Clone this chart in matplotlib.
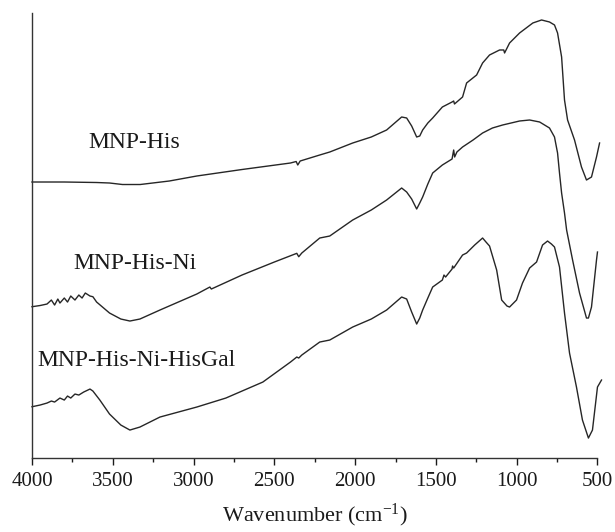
import matplotlib
matplotlib.use("Agg")
import matplotlib.pyplot as plt
from matplotlib.ticker import MultipleLocator

plt.rcParams['font.family'] = ['Liberation Serif', 'DejaVu Serif']
plt.rcParams['mathtext.fontset'] = 'custom'
plt.rcParams['mathtext.rm'] = 'Liberation Serif'
plt.rcParams['mathtext.it'] = 'Liberation Serif:italic'

# ---- data (wavenumber in cm^-1, transmittance in arbitrary offset units) ----
his_wn = [4000, 3800, 3600, 3520, 3440, 3330, 3150, 2980, 2700, 2400, 2365, 2355, 2340,
          2219, 2157, 2015, 1900, 1805, 1712, 1681, 1650, 1619, 1600, 1582, 1550, 1520,
          1460, 1400, 1390, 1385, 1335, 1310, 1248, 1211, 1168, 1106, 1080, 1075, 1044,
          982, 900, 846, 797, 766, 747, 722, 704, 685, 642, 599, 568, 537, 506, 487]
his_t = [276, 276, 275.5, 275, 273.5, 273.5, 277, 282, 288.5, 295, 296.5, 293, 297,
         303, 306, 315, 321, 328, 341, 340, 332, 321, 322, 328, 335, 340,
         351, 356, 357, 354, 361, 375, 383, 395, 403, 408, 408, 405, 415,
         425, 435, 438, 436, 433, 425, 401, 358, 338, 318, 291, 278, 281, 301, 315]

ni_wn = [4000, 3950, 3907, 3880, 3860, 3840, 3827, 3800, 3780, 3760, 3734, 3710, 3690,
         3670, 3641, 3623, 3600, 3520, 3450, 3394, 3332, 3208, 2980, 2899, 2890, 2700,
         2500, 2361, 2349, 2330, 2219, 2157, 2015, 1900, 1805, 1712, 1681, 1650, 1619,
         1600, 1582, 1550, 1520, 1460, 1400, 1390, 1384, 1370, 1335, 1270, 1211, 1150,
         1087, 982, 920, 858, 797, 766, 747, 735, 722, 704, 691, 654, 611, 568, 556,
         537, 506, 500]
ni_t = [151.3, 152.5, 154, 158, 153, 159, 155, 160, 156, 162, 158, 163, 160,
        165, 162, 161.3, 156, 145, 139, 137, 139, 148, 164, 171, 169, 183,
        196, 204.7, 201.3, 205, 220, 222, 238, 248, 258, 270, 266, 259, 249,
        255, 261, 274, 285, 293, 299, 308, 301, 306, 311, 318, 325, 330,
        333, 337, 338, 336, 330, 321, 305, 285, 265, 245, 228, 198, 165, 140, 140,
        151, 198, 206]

gal_wn = [4000, 3950, 3907, 3880, 3860, 3827, 3800, 3780, 3760, 3734, 3710, 3680, 3641,
          3623, 3580, 3520, 3450, 3394, 3332, 3208, 2980, 2800, 2571, 2400, 2361, 2349,
          2330, 2219, 2157, 2015, 1900, 1805, 1712, 1681, 1650, 1619, 1600, 1582, 1550,
          1520, 1460, 1450, 1440, 1400, 1397, 1390, 1335, 1310, 1260, 1211, 1190, 1168,
          1124, 1093, 1060, 1044, 1001, 964, 920, 877, 840, 809, 785, 766, 735, 704, 673,
          630, 593, 556, 531, 500, 475]
gal_t = [51.3, 53, 55, 57, 56, 60, 58, 62, 60, 64, 63, 66, 69,
         67, 58, 44, 33, 28, 31, 41, 51, 60, 76, 96, 101, 100,
         103, 116, 118, 131, 139, 148, 161, 159, 146, 134, 140, 148, 160,
         171, 178, 183, 181, 189, 192, 190, 203, 205, 213, 220, 216, 212,
         188, 158, 152, 151, 158, 175, 190, 196, 213, 217, 214, 211, 191, 145, 105,
         71, 38, 20, 28, 71, 78]

series = [(his_wn, his_t), (ni_wn, ni_t), (gal_wn, gal_t)]
labels = ["MNP-His", "MNP-His-Ni", "MNP-His-Ni-HisGal"]
label_x = [3654, 3746, 3969]
label_y = [316, 195, 98]

fig = plt.figure(figsize=(6.15, 5.32), dpi=100)
ax = fig.add_axes([0.052, 0.139, 0.9195, 0.8366])

for wn, t in series:
    ax.plot(wn, t, color='#262626', lw=1.0, clip_on=False)

for lab, lx, ly in zip(labels, label_x, label_y):
    ax.text(lx, ly, lab, fontsize=17, ha='left', va='center', color='#1a1a1a')

ax.set_xlim(4000, 500)
ax.set_ylim(0, 445)
ax.xaxis.set_major_locator(MultipleLocator(500))
ax.xaxis.set_minor_locator(MultipleLocator(250))
ax.tick_params(axis='x', which='major', direction='out', length=5, width=1,
               labelsize=15, pad=5, colors='#1a1a1a')
ax.tick_params(axis='x', which='minor', direction='out', length=3, width=1,
               colors='#1a1a1a')
ax.set_yticks([])
for s in ['top', 'right']:
    ax.spines[s].set_visible(False)
for s in ['left', 'bottom']:
    ax.spines[s].set_linewidth(1.0)
    ax.spines[s].set_color('#333333')

ax.set_xlabel('Wavenumber (cm$^{-1}$)', fontsize=16, labelpad=8, color='#1a1a1a')

fig.savefig('out.png', dpi=100)
